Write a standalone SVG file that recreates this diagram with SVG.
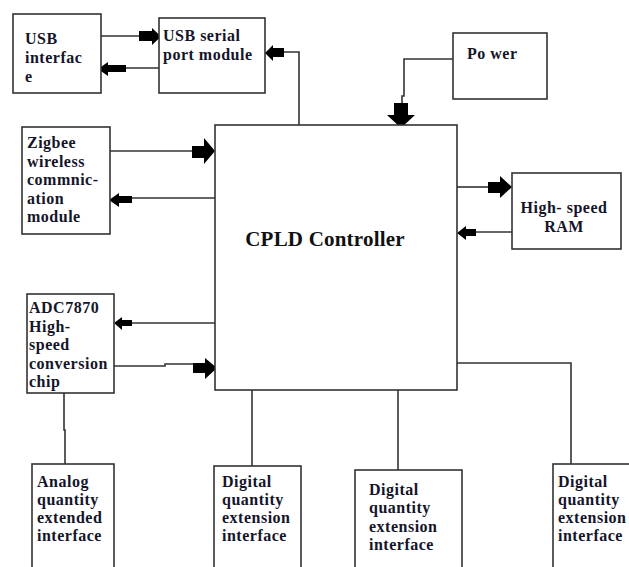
<svg xmlns="http://www.w3.org/2000/svg" width="629" height="567" viewBox="0 0 629 567">
<style>
.box{fill:#fff;stroke:#333;stroke-width:1.6}
.ln{fill:none;stroke:#333;stroke-width:1.6}
.ah{fill:#000}
.t{font-family:'Liberation Serif','Times New Roman',Times,serif;font-weight:bold;font-size:16px;letter-spacing:0.5px;fill:#15152a}
.big{font-size:21px;letter-spacing:0.2px;fill:#111}
</style>
<rect width="629" height="567" fill="#fff"/>
<g id="connectors">
<path class="ln" d="M101,36H140"/>
<path class="ln" d="M159,68H126"/>
<path class="ln" d="M284,52H299V125"/>
<path class="ln" d="M453,59H404V96H402V103"/>
<path class="ln" d="M110,151H192"/>
<path class="ln" d="M215,198H132"/>
<path class="ln" d="M457,187H488"/>
<path class="ln" d="M512,232H476"/>
<path class="ln" d="M215,323H132"/>
<path class="ln" d="M114,366H165V364H193"/>
<path class="ln" d="M64,393V430H65V464"/>
<path class="ln" d="M252,390V466"/>
<path class="ln" d="M398,390V470"/>
<path class="ln" d="M457,363H571V464"/>
<polygon class="ah" points="139,31 152,31 152,28 161,36.5 152,45 152,41 139,41"/>
<polygon class="ah" points="126,65 108,65 108,62 98,69 108,76 108,72 126,72"/>
<polygon class="ah" points="284,48 273,48 273,45 265,53 273,61 273,57 284,57"/>
<polygon class="ah" points="394,103 408,103 408,115 415,115 401,128 387,115 394,115"/>
<polygon class="ah" points="192,146 204,146 204,138 215,151 204,164 204,158 192,158"/>
<polygon class="ah" points="132,196 119,196 119,193 109,200 119,207 119,203 132,203"/>
<polygon class="ah" points="488,182 500,182 500,176 512,187 500,198 500,193 488,193"/>
<polygon class="ah" points="476,229 466,229 466,226 457,233 466,240 466,236 476,236"/>
<polygon class="ah" points="132,320 122,320 122,317 114,323 122,330 122,326 132,326"/>
<polygon class="ah" points="193,363 205,363 205,358 217,368 205,379 205,373 193,373"/>
</g>
<g id="usb-interface">
<rect class="box" x="13" y="14" width="88" height="79"/>
<text class="t" font-family="Liberation Serif, serif" x="25" y="44">USB</text>
<text class="t" font-family="Liberation Serif, serif" x="25" y="63">interfac</text>
<text class="t" font-family="Liberation Serif, serif" x="25" y="82">e</text>
</g>
<g id="usb-serial">
<rect class="box" x="159" y="18" width="106" height="75"/>
<text class="t" font-family="Liberation Serif, serif" x="163" y="41">USB serial</text>
<text class="t" font-family="Liberation Serif, serif" x="163" y="60">port module</text>
</g>
<g id="power">
<rect class="box" x="453" y="33" width="94" height="66"/>
<text class="t" font-family="Liberation Serif, serif" x="467" y="59">Po wer</text>
</g>
<g id="cpld">
<rect class="box" x="215" y="125" width="242" height="265"/>
<text class="t big" font-family="Liberation Serif, serif" x="325" y="246" text-anchor="middle">CPLD Controller</text>
</g>
<g id="zigbee">
<rect class="box" x="22" y="127" width="88" height="107"/>
<text class="t" font-family="Liberation Serif, serif" x="27" y="148">Zigbee</text>
<text class="t" font-family="Liberation Serif, serif" x="27" y="166.5">wireless</text>
<text class="t" font-family="Liberation Serif, serif" x="27" y="185">commnic-</text>
<text class="t" font-family="Liberation Serif, serif" x="27" y="203.5">ation</text>
<text class="t" font-family="Liberation Serif, serif" x="27" y="222">module</text>
</g>
<g id="ram">
<rect class="box" x="512" y="173" width="109" height="76"/>
<text class="t" font-family="Liberation Serif, serif" x="564" y="213" text-anchor="middle">High- speed</text>
<text class="t" font-family="Liberation Serif, serif" x="564" y="232" text-anchor="middle">RAM</text>
</g>
<g id="adc">
<rect class="box" x="27" y="294" width="87" height="99"/>
<text class="t" font-family="Liberation Serif, serif" x="29" y="313">ADC7870</text>
<text class="t" font-family="Liberation Serif, serif" x="29" y="331.5">High-</text>
<text class="t" font-family="Liberation Serif, serif" x="29" y="350">speed</text>
<text class="t" font-family="Liberation Serif, serif" x="29" y="368.5">conversion</text>
<text class="t" font-family="Liberation Serif, serif" x="29" y="387">chip</text>
</g>
<g id="analog">
<rect class="box" x="32" y="464" width="82" height="110"/>
<text class="t" font-family="Liberation Serif, serif" x="37" y="487">Analog</text>
<text class="t" font-family="Liberation Serif, serif" x="37" y="505">quantity</text>
<text class="t" font-family="Liberation Serif, serif" x="37" y="523">extended</text>
<text class="t" font-family="Liberation Serif, serif" x="37" y="541">interface</text>
</g>
<g id="digital1">
<rect class="box" x="214" y="466" width="87" height="110"/>
<text class="t" font-family="Liberation Serif, serif" x="222" y="487">Digital</text>
<text class="t" font-family="Liberation Serif, serif" x="222" y="505">quantity</text>
<text class="t" font-family="Liberation Serif, serif" x="222" y="523">extension</text>
<text class="t" font-family="Liberation Serif, serif" x="222" y="541">interface</text>
</g>
<g id="digital2">
<rect class="box" x="355" y="470" width="107" height="110"/>
<text class="t" font-family="Liberation Serif, serif" x="369" y="495">Digital</text>
<text class="t" font-family="Liberation Serif, serif" x="369" y="513">quantity</text>
<text class="t" font-family="Liberation Serif, serif" x="369" y="532">extension</text>
<text class="t" font-family="Liberation Serif, serif" x="369" y="550">interface</text>
</g>
<g id="digital3">
<rect class="box" x="553" y="464" width="90" height="110"/>
<text class="t" font-family="Liberation Serif, serif" x="558" y="487">Digital</text>
<text class="t" font-family="Liberation Serif, serif" x="558" y="505">quantity</text>
<text class="t" font-family="Liberation Serif, serif" x="558" y="523">extension</text>
<text class="t" font-family="Liberation Serif, serif" x="558" y="541">interface</text>
</g>
</svg>
